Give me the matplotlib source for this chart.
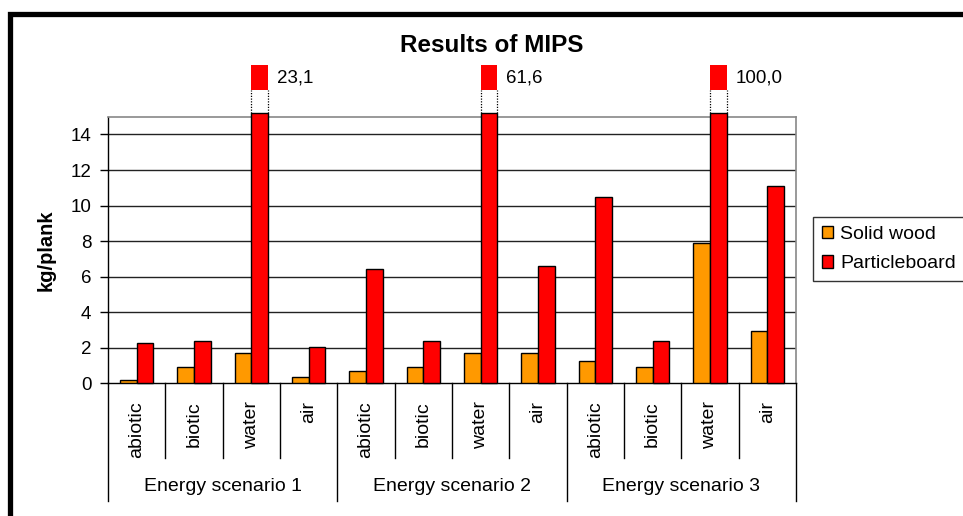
import matplotlib
matplotlib.use("Agg")
import matplotlib.pyplot as plt
from matplotlib.patches import Rectangle
import numpy as np

plt.rcParams['font.family'] = ['Liberation Sans', 'DejaVu Sans']

# ---- data ----
groups = ["Energy scenario 1", "Energy scenario 2", "Energy scenario 3"]
categories = ["abiotic", "biotic", "water", "air"]
solid_wood = [0.2, 0.9, 1.7, 0.35, 0.7, 0.9, 1.7, 1.7, 1.25, 0.9, 7.9, 2.95]
particleboard = [2.25, 2.4, 23.1, 2.05, 6.45, 2.4, 61.6, 6.6, 10.5, 2.4, 100.0, 11.1]
series_names = ["Solid wood", "Particleboard"]
yticks = [0, 2, 4, 6, 8, 10, 12, 14]

# ---- style / layout ----
ORANGE = "#FF9900"
RED = "#FF0000"
YMAX = 15
BREAK_AT = 15.2      # where clipped bars stop (just above plot top)
GAP_TOP = 16.5       # top of dotted gap
STUB_TOP = 17.9      # top of the red stub
W = 0.29

fig = plt.figure(figsize=(9.63, 5.16), dpi=100)
ax = fig.add_axes([108/963, (516-383.3)/516, (796-108)/963, (383.3-116.7)/516])

n = len(solid_wood)
x = np.arange(n)
labels_cat = categories * len(groups)

h_part = [min(v, BREAK_AT) for v in particleboard]
b1 = ax.bar(x - W/2, solid_wood, W, color=ORANGE, edgecolor="black", linewidth=1.0,
            label=series_names[0], zorder=3)
b2 = ax.bar(x + W/2, h_part, W, color=RED, edgecolor="black", linewidth=1.0,
            label=series_names[1], zorder=3, clip_on=False)

# broken bars
for xi, v in zip(x, particleboard):
    if v > YMAX:
        ax.bar(xi + W/2, STUB_TOP - GAP_TOP, W, bottom=GAP_TOP, color=RED,
               edgecolor="none", zorder=3, clip_on=False)
        for dx in (0, W):
            ax.plot([xi + dx, xi + dx], [BREAK_AT, GAP_TOP], color="black",
                    linestyle=(0, (1, 1.2)), linewidth=0.9, clip_on=False, zorder=3)
        ax.text(xi + W + 0.15, (GAP_TOP + STUB_TOP) / 2,
                f"{v:.1f}".replace(".", ","), fontsize=13.5, va="center", ha="left")

ax.set_xlim(-0.5, n - 0.5)
ax.set_ylim(0, YMAX)
ax.set_yticks(yticks)
ax.set_yticklabels([str(t) for t in yticks], fontsize=13.5)
ax.tick_params(axis="y", direction="out", length=6, width=1, pad=6)
ax.set_xticks([])
for t in yticks[1:]:
    ax.axhline(t, color="#222222", linewidth=1.0, zorder=1)

for s in ["top", "right"]:
    ax.spines[s].set_color("#888888")
    ax.spines[s].set_linewidth(1.2)
for s in ["left", "bottom"]:
    ax.spines[s].set_color("black")
    ax.spines[s].set_linewidth(1.0)

# multi-level category axis
trans = ax.get_xaxis_transform()
ncat = len(categories)
for i in range(n + 1):
    bottom = -0.441 if i % ncat == 0 else -0.280
    ax.plot([i - 0.5, i - 0.5], [0, bottom], transform=trans, color="black",
            linewidth=1.0, clip_on=False)
for i, lab in enumerate(labels_cat):
    ax.text(i, -0.066, lab, transform=trans, rotation=90, rotation_mode="anchor",
            ha="right", va="center", fontsize=14)
for g, name in enumerate(groups):
    ax.text(g * ncat + (ncat - 1) / 2, -0.388, name, transform=trans,
            ha="center", va="center", fontsize=14)

ax.set_ylabel("kg/plank", fontsize=14.5, fontweight="bold")
ax.yaxis.set_label_coords((56 - 108) / (796 - 108), (383.3 - 250) / 266.6)

fig.text(491.5/963, 1 - 46/516, "Results of MIPS", fontsize=17.5, fontweight="bold",
         ha="center", va="center")

leg = fig.legend(handles=[b1, b2], labels=series_names, loc="upper left",
                 bbox_to_anchor=(813/963, 1 - 217/516), fontsize=14, frameon=True,
                 fancybox=False, shadow=False, handlelength=0.6, handleheight=0.6,
                 handletextpad=0.35, borderpad=0.45, labelspacing=0.65, borderaxespad=0)
leg.get_frame().set_edgecolor("black")
leg.get_frame().set_linewidth(1.0)

# outer chart border
fig.patches.append(Rectangle((9.5/963, -0.1), 1.2, 1 - 13.5/516 + 0.1, transform=fig.transFigure,
                             fill=False, edgecolor="black", linewidth=3.8))

fig.savefig("out.png", dpi=100)
